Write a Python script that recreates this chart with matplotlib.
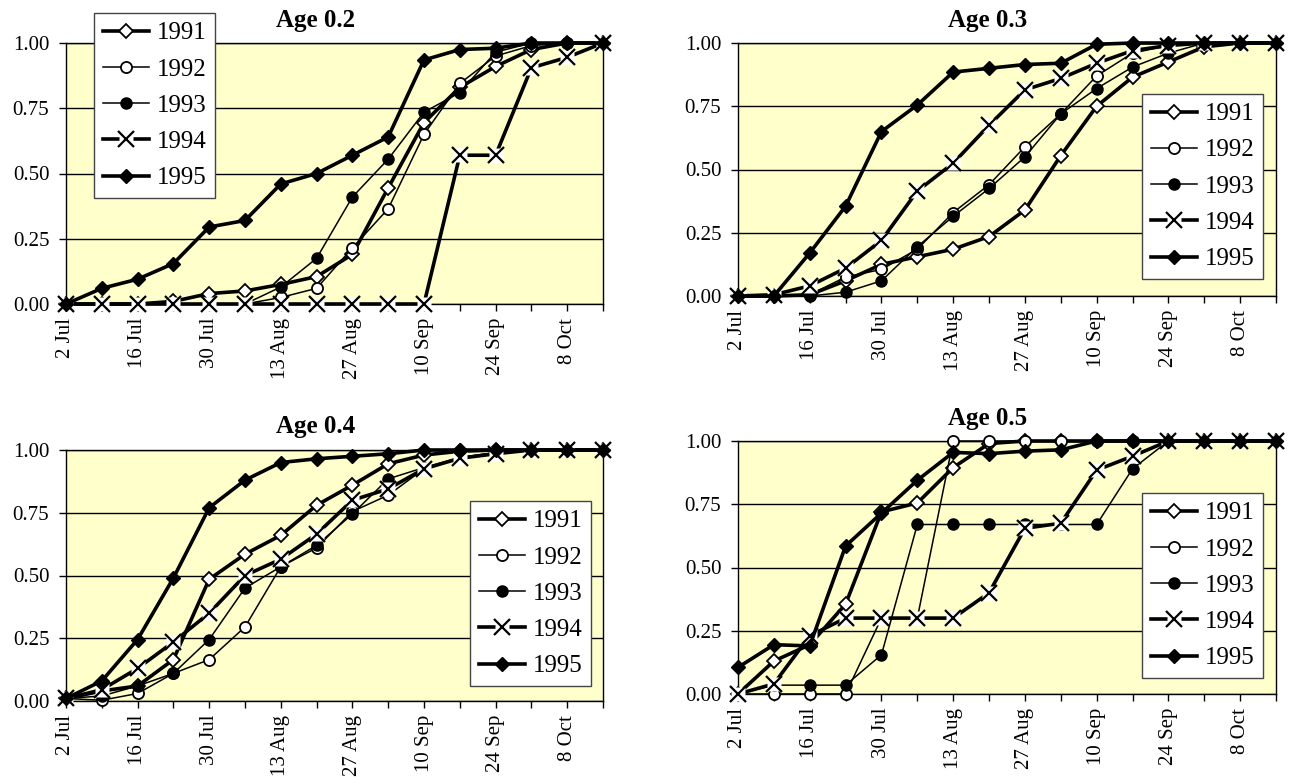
import matplotlib.pyplot as plt

plt.rcParams['font.family'] = ['Liberation Serif', 'DejaVu Serif']

# weekly sampling dates, labels shown every second week
dates = ['2 Jul', '9 Jul', '16 Jul', '23 Jul', '30 Jul', '6 Aug', '13 Aug', '20 Aug',
         '27 Aug', '3 Sep', '10 Sep', '17 Sep', '24 Sep', '1 Oct', '8 Oct', '15 Oct']
years = ['1991', '1992', '1993', '1994', '1995']

age02 = {
    '1991': [0, 0, 0, 0.01, 0.04, 0.05, 0.075, 0.105, 0.19, 0.445, 0.695, 0.83, 0.91, 0.975, 1.0, 1.0],
    '1992': [0, 0, 0, 0, 0, 0, 0.025, 0.06, 0.215, 0.365, 0.65, 0.845, 0.95, 0.99, 1.0, 1.0],
    '1993': [0, 0, 0, 0, 0, 0, 0.065, 0.175, 0.41, 0.555, 0.735, 0.81, 0.965, 1.0, 1.0, 1.0],
    '1994': [0, 0, 0, 0, 0, 0, 0, 0, 0, 0, 0, 0.57, 0.57, 0.905, 0.945, 1.0],
    '1995': [0, 0.06, 0.095, 0.155, 0.295, 0.32, 0.46, 0.50, 0.57, 0.64, 0.935, 0.975, 0.98, 1.0, 1.0, 1.0],
}
age03 = {
    '1991': [0, 0, 0.005, 0.06, 0.125, 0.155, 0.185, 0.235, 0.34, 0.555, 0.75, 0.865, 0.925, 0.985, 1.0, 1.0],
    '1992': [0, 0, 0.005, 0.075, 0.105, 0.185, 0.33, 0.44, 0.59, 0.72, 0.87, 0.96, 0.99, 1.0, 1.0, 1.0],
    '1993': [0, 0, 0, 0.015, 0.06, 0.195, 0.315, 0.425, 0.55, 0.72, 0.82, 0.905, 0.96, 1.0, 1.0, 1.0],
    '1994': [0, 0.005, 0.04, 0.11, 0.22, 0.415, 0.525, 0.675, 0.815, 0.86, 0.92, 0.97, 0.99, 1.0, 1.0, 1.0],
    '1995': [0, 0, 0.17, 0.355, 0.65, 0.755, 0.885, 0.90, 0.915, 0.92, 0.995, 1.0, 1.0, 1.0, 1.0, 1.0],
}
age04 = {
    '1991': [0.01, 0.04, 0.06, 0.165, 0.485, 0.585, 0.66, 0.78, 0.86, 0.945, 0.98, 0.995, 1.0, 1.0, 1.0, 1.0],
    '1992': [0.01, 0.003, 0.03, 0.11, 0.165, 0.295, 0.535, 0.61, 0.755, 0.82, 0.925, 0.97, 0.99, 1.0, 1.0, 1.0],
    '1993': [0.01, 0.02, 0.06, 0.11, 0.245, 0.45, 0.535, 0.62, 0.745, 0.885, 0.93, 0.97, 0.99, 1.0, 1.0, 1.0],
    '1994': [0.01, 0.045, 0.13, 0.235, 0.35, 0.50, 0.565, 0.665, 0.80, 0.845, 0.925, 0.967, 0.985, 1.0, 1.0, 1.0],
    '1995': [0.01, 0.08, 0.245, 0.49, 0.77, 0.88, 0.95, 0.965, 0.975, 0.985, 1.0, 1.0, 1.0, 1.0, 1.0, 1.0],
}
age05 = {
    '1991': [0, 0.13, 0.195, 0.355, 0.72, 0.755, 0.895, 0.99, 1.0, 1.0, 1.0, 1.0, 1.0, 1.0, 1.0, 1.0],
    '1992': [0, 0, 0, 0, 0.3, 0.3, 1.0, 1.0, 1.0, 1.0, 1.0, 1.0, 1.0, 1.0, 1.0, 1.0],
    '1993': [0, 0.035, 0.035, 0.035, 0.155, 0.67, 0.67, 0.67, 0.67, 0.67, 0.67, 0.89, 1.0, 1.0, 1.0, 1.0],
    '1994': [0, 0.04, 0.23, 0.30, 0.30, 0.30, 0.30, 0.40, 0.655, 0.675, 0.885, 0.94, 1.0, 1.0, 1.0, 1.0],
    '1995': [0.105, 0.195, 0.19, 0.585, 0.715, 0.845, 0.955, 0.95, 0.96, 0.965, 1.0, 1.0, 1.0, 1.0, 1.0, 1.0],
}

W, H = 1291, 784
fig = plt.figure(figsize=(W / 100, H / 100), dpi=100)

# (title, data, plot box in px [x0, y0, x1, y1], title centre px, legend top-left px)
panels = [
    ('Age 0.2', age02, (66, 43, 603, 304), (316, 20), (94, 13)),
    ('Age 0.3', age03, (738, 43, 1276, 296), (988, 20), (1142, 94)),
    ('Age 0.4', age04, (66, 450, 603, 701), (316, 427), (470, 501)),
    ('Age 0.5', age05, (738, 441, 1276, 694), (988, 418), (1142, 493)),
]

thick, thin = 2.6, 1.1
x = list(range(len(dates)))

for title, data, box, tpos, lpos in panels:
    x0, y0, x1, y1 = box
    ax = fig.add_axes([x0 / W, 1 - y1 / H, (x1 - x0) / W, (y1 - y0) / H])
    ax.set_facecolor('#FFFFCC')
    ax.set_xlim(0, len(dates) - 1)
    ax.set_ylim(0, 1)
    ax.set_yticks([0, 0.25, 0.5, 0.75, 1.0])
    ax.set_yticklabels(['%.2f' % v for v in [0, 0.25, 0.5, 0.75, 1.0]])
    ax.set_xticks(x)
    ax.set_xticklabels([d if i % 2 == 0 else '' for i, d in enumerate(dates)], rotation=90)
    ax.tick_params(axis='both', labelsize=15, length=5, width=1, color='black')
    ax.tick_params(axis='y', pad=7)
    ax.tick_params(axis='x', pad=5)
    ax.grid(axis='y', color='black', lw=1)
    ax.set_axisbelow(True)
    for s in ax.spines.values():
        s.set_color('black')
        s.set_linewidth(1)

    handles = []
    h = ax.plot(x, data['1991'], color='black', lw=thick, marker='D', ms=7, mfc='white',
                mec='black', mew=1.3, clip_on=False, zorder=3)
    handles.append(h[0])
    h = ax.plot(x, data['1992'], color='black', lw=thin, marker='o', ms=8, mfc='white',
                mec='black', mew=1.3, clip_on=False, zorder=3)
    handles.append(h[0])
    h = ax.plot(x, data['1993'], color='black', lw=thin, marker='o', ms=8, mfc='black',
                mec='black', clip_on=False, zorder=3)
    handles.append(h[0])
    l1 = ax.plot(x, data['1994'], color='black', lw=thick, clip_on=False, zorder=3)[0]
    l2 = ax.plot(x, data['1994'], ls='none', marker='s', ms=10, mfc='white', mec='none',
                 clip_on=False, zorder=3)[0]
    l3 = ax.plot(x, data['1994'], ls='none', marker='x', ms=11, mec='black', mew=1.6,
                 clip_on=False, zorder=3)[0]
    handles.append((l1, l2, l3))
    h = ax.plot(x, data['1995'], color='black', lw=thick, marker='D', ms=7.5, mfc='black',
                mec='black', clip_on=False, zorder=3)
    handles.append(h[0])

    fig.text(tpos[0] / W, 1 - tpos[1] / H, title, ha='center', va='center',
             fontsize=18, fontweight='bold')

    leg = ax.legend(handles, years, loc='upper left',
                    bbox_to_anchor=(lpos[0] / W, 1 - lpos[1] / H),
                    bbox_transform=fig.transFigure, borderaxespad=0,
                    fontsize=18, fancybox=False, framealpha=1, edgecolor='#444444',
                    handlelength=1.85, handletextpad=0.3, labelspacing=0.55,
                    borderpad=0.35)
    leg.get_frame().set_linewidth(1)
    leg.set_zorder(5)

fig.savefig('out.png', dpi=100)
